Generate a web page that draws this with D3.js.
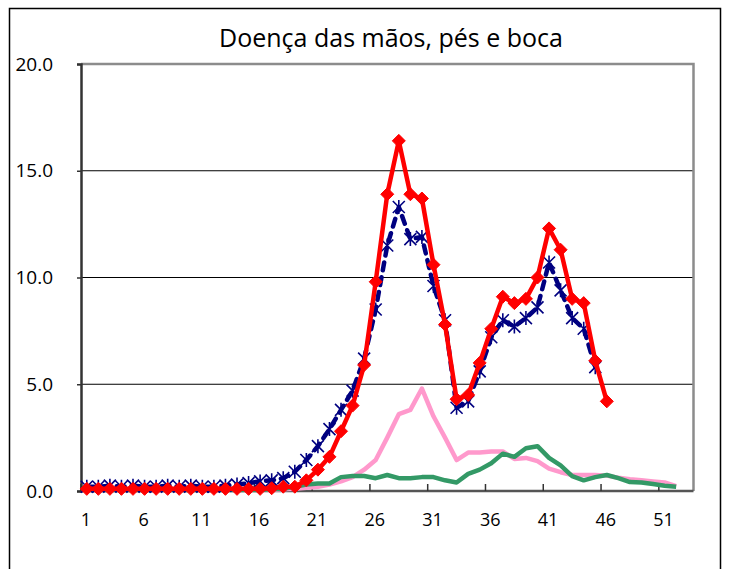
<!DOCTYPE html>
<html>
<head>
<meta charset="utf-8">
<script src="https://cdn.jsdelivr.net/npm/d3@7"></script>
<style>
    body { margin: 0; background: #fff; }
    svg { display: block; }
</style>
</head>
<body>
<div id="chart"></div>
<script>
// weeks 1..53 on the category axis, data runs to week 52
var weeks = d3.range(1, 54);
var tickWeeks = [1, 6, 11, 16, 21, 26, 31, 36, 41, 46, 51];
var yTicks = [0, 5, 10, 15, 20];

// red, diamonds
var serieRed = [0.1, 0.1, 0.1, 0.1, 0.1, 0.1, 0.1, 0.1, 0.1, 0.1, 0.1, 0.1, 0.1, 0.1, 0.1,
    0.1, 0.13, 0.2, 0.2, 0.5, 1.0, 1.6, 2.8, 4.0, 5.9, 9.8, 13.9, 16.4, 13.9, 13.7,
    10.6, 7.8, 4.3, 4.5, 6.0, 7.6, 9.1, 8.8, 9.0, 10.0, 12.3, 11.3, 9.0, 8.8, 6.1, 4.2];
// navy dashed, asterisks
var serieNavy = [0.2, 0.2, 0.25, 0.2, 0.25, 0.2, 0.2, 0.25, 0.2, 0.25, 0.2, 0.2, 0.25, 0.3, 0.37,
    0.45, 0.5, 0.6, 0.9, 1.45, 2.1, 2.9, 3.8, 4.7, 6.2, 8.5, 11.5, 13.3, 11.8, 11.9,
    9.6, 8.0, 3.9, 4.2, 5.6, 7.2, 8.0, 7.7, 8.1, 8.6, 10.7, 9.4, 8.1, 7.6, 5.8];
// pink
var seriePink = [0.05, 0.05, 0.05, 0.05, 0.05, 0.05, 0.05, 0.05, 0.05, 0.05, 0.05, 0.05, 0.05, 0.05, 0.05,
    0.05, 0.05, 0.08, 0.1, 0.15, 0.2, 0.3, 0.45, 0.65, 1.0, 1.45, 2.5, 3.6, 3.8, 4.8,
    3.5, 2.5, 1.45, 1.8, 1.8, 1.85, 1.85, 1.5, 1.55, 1.4, 1.05, 0.88, 0.75, 0.75, 0.75,
    0.72, 0.62, 0.55, 0.5, 0.45, 0.4, 0.23];
// green
var serieGreen = [0.05, 0.05, 0.05, 0.05, 0.05, 0.05, 0.05, 0.05, 0.05, 0.05, 0.05, 0.05, 0.05, 0.05, 0.05,
    0.05, 0.08, 0.1, 0.2, 0.3, 0.35, 0.35, 0.65, 0.7, 0.7, 0.6, 0.75, 0.6, 0.6, 0.65,
    0.65, 0.5, 0.4, 0.8, 1.0, 1.3, 1.75, 1.6, 2.0, 2.1, 1.55, 1.2, 0.7, 0.5, 0.65,
    0.75, 0.6, 0.42, 0.4, 0.33, 0.25, 0.2];

var W = 729, H = 569;
var p = {left: 81, right: 693.5, top: 64, bottom: 491};

var svg = d3.select("#chart").append("svg").attr("width", W).attr("height", H);

// outer chart frame
svg.append("rect").attr("x", 9.5).attr("y", 8.5).attr("width", 711).attr("height", 600)
    .attr("fill", "#fff").attr("stroke", "#000").attr("stroke-width", 1.5);

var x = d3.scaleBand().domain(weeks).range([p.left, p.right]);
var y = d3.scaleLinear().domain([0, 20]).range([p.bottom, p.top]);
var cx = function (w) { return x(w) + x.bandwidth() / 2; };

svg.append("text").attr("x", 391).attr("y", 47).attr("text-anchor", "middle")
    .attr("font-family", "Open Sans").attr("font-size", "25px").attr("fill", "#000")
    .text("Doença das mãos, pés e boca");

// grid
svg.append("g").selectAll("line").data([5, 10, 15]).enter().append("line")
    .attr("x1", p.left).attr("x2", p.right)
    .attr("y1", function (d) { return y(d); }).attr("y2", function (d) { return y(d); })
    .attr("stroke", "#000").attr("stroke-width", 1.2);

// plot border top / right in grey
svg.append("path").attr("d", "M" + p.left + "," + p.top + "H" + p.right + "V" + p.bottom)
    .attr("fill", "none").attr("stroke", "#8c8c8c").attr("stroke-width", 2.5);

// y axis
var yAxis = d3.axisLeft(y).tickValues(yTicks).tickSize(4).tickFormat(d3.format(".1f"));
var gy = svg.append("g").attr("transform", "translate(" + p.left + ",0)").call(yAxis);
gy.select(".domain").attr("stroke", "#333").attr("stroke-width", 2.5);
gy.selectAll(".tick line").attr("stroke", "#333").attr("stroke-width", 1.5);
gy.selectAll(".tick text").attr("x", -28).attr("font-family", "Open Sans").attr("font-size", "19px").attr("fill", "#000");

// x axis: ticks on category boundaries, pointing inward
var gx = svg.append("g").attr("transform", "translate(0," + p.bottom + ")");
gx.append("line").attr("x1", p.left).attr("x2", p.right).attr("y1", 0).attr("y2", 0)
    .attr("stroke", "#555").attr("stroke-width", 2.5);
gx.selectAll(".tk").data(tickWeeks).enter().append("line").attr("class", "tk")
    .attr("x1", function (d) { return x(d); }).attr("x2", function (d) { return x(d); })
    .attr("y1", 0).attr("y2", -7).attr("stroke", "#333").attr("stroke-width", 1.5);
gx.selectAll("text").data(tickWeeks).enter().append("text")
    .attr("x", function (d) { return cx(d) - 1; }).attr("y", 35)
    .attr("text-anchor", "middle").attr("font-family", "Open Sans").attr("font-size", "18px")
    .attr("fill", "#000").text(function (d) { return d; });

var line = d3.line()
    .x(function (d, i) { return cx(weeks[i]); })
    .y(function (d) { return y(d); });

function drawLine(vals, color, dash) {
    var path = svg.append("path").datum(vals).attr("d", line)
        .attr("fill", "none").attr("stroke", color).attr("stroke-width", 4.5)
        .attr("stroke-linejoin", "round");
    if (dash) path.attr("stroke-dasharray", dash).attr("stroke-linecap", "round");
    return path;
}

drawLine(seriePink, "#ff99cc");
drawLine(serieGreen, "#339966");
drawLine(serieNavy, "#000080", "8,7");

// asterisk markers
svg.append("g").selectAll("path").data(serieNavy).enter().append("path")
    .attr("transform", function (d, i) { return "translate(" + cx(weeks[i]) + "," + y(d) + ")"; })
    .attr("d", "M-6,-6L6,6M-6,6L6,-6M0,-7V7")
    .attr("stroke", "#000080").attr("stroke-width", 1.6).attr("fill", "none");

drawLine(serieRed, "#ff0000");

// diamonds
svg.append("g").selectAll("path").data(serieRed).enter().append("path")
    .attr("transform", function (d, i) { return "translate(" + cx(weeks[i]) + "," + y(d) + ")"; })
    .attr("d", "M0,-6.5L6.5,0L0,6.5L-6.5,0Z")
    .attr("fill", "#ff0000").attr("stroke", "#ff0000").attr("stroke-width", 1);
</script>
</body>
</html>
